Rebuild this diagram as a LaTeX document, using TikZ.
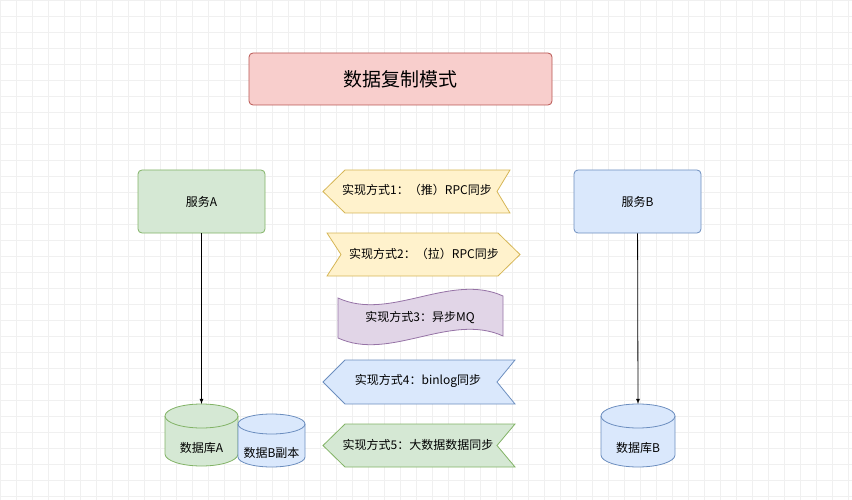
\documentclass[tikz,border=0pt]{standalone}
\usepackage{fontspec}
\setmainfont{Noto Sans CJK SC}
\usetikzlibrary{positioning}
\definecolor{redF}{HTML}{F8CECC}\definecolor{redD}{HTML}{B85450}
\definecolor{grnF}{HTML}{D5E8D4}\definecolor{grnD}{HTML}{82B366}
\definecolor{bluF}{HTML}{DAE8FC}\definecolor{bluD}{HTML}{6C8EBF}
\definecolor{ylwF}{HTML}{FFF2CC}\definecolor{ylwD}{HTML}{D6B656}
\definecolor{purF}{HTML}{E1D5E7}\definecolor{purD}{HTML}{9673A6}
\tikzset{%
  box/.style   = {shape=rectangle, rounded corners=4pt, draw, line width=0.8pt,%
                  minimum width=127pt, minimum height=63pt, font=\fontsize{12}{14}\selectfont},%
  title/.style = {box, fill=redF, draw=redD, minimum width=303pt,%
                  minimum height=52pt, font=\fontsize{19}{22}\selectfont},%
  way/.style   = {line width=0.8pt},%
  lbl/.style   = {font=\fontsize{12}{14}\selectfont, inner sep=0pt},%
  link/.style  = {-latex, line width=0.8pt}%
}
\begin{document}
\begin{tikzpicture}[x=1pt,y=-1pt]
  \useasboundingbox (0,0) rectangle (852,500);
  % grid
  \draw[black!6, step=16pt] (0,0) grid (852,500);
  \node[title] (ttl) at (400.5,79) {数据复制模式};
  \node[box, fill=grnF, draw=grnD] (svcA) at (201.5,201.5) {服务A};
  \node[box, fill=bluF, draw=bluD] (svcB) at (637.5,201.5) {服务B};
  % ways
  \draw[way, fill=ylwF, draw=ylwD] (323,191.5) -- (345,170) -- (510,170) -- (497,191.5) -- (510,213) -- (345,213) -- cycle;
  \node[lbl] (w1) at (417,190) {实现方式1：（推）RPC同步};
  \draw[way, fill=ylwF, draw=ylwD] (327,233) -- (498,233) -- (520,254.5) -- (498,276) -- (327,276) -- (341,254.5) -- cycle;
  \node[lbl] (w2) at (424,254) {实现方式2：（拉）RPC同步};
  \draw[way, fill=purF, draw=purD] (338,298) .. controls (390,322) and (450,272) .. (503,296)
    -- (503,336) .. controls (450,312) and (390,362) .. (338,338) -- cycle;
  \node[lbl] (w3) at (420,318) {实现方式3：异步MQ};
  \draw[way, fill=bluF, draw=bluD] (323,382) -- (345,360) -- (515,360) -- (497,382) -- (515,404) -- (345,404) -- cycle;
  \node[lbl] (w4) at (418,381) {实现方式4：binlog同步};
  \draw[way, fill=grnF, draw=grnD] (323,445.5) -- (345,424) -- (515,424) -- (497,445.5) -- (515,467) -- (345,467) -- cycle;
  \node[lbl] (w5) at (418,445) {实现方式5：大数据数据同步};
  % databases
  \draw[way, fill=grnF, draw=grnD] (165,416) -- (165,454)
    arc[start angle=180, end angle=360, x radius=36.5pt, y radius=12pt] -- (238,416)
    arc[start angle=0, end angle=180, x radius=36.5pt, y radius=12pt];
  \draw[way, draw=grnD] (165,416) arc[start angle=180, end angle=360, x radius=36.5pt, y radius=12pt];
  \coordinate (dbA) at (201.5,404);
  \node[lbl] (dbAl) at (201.5,448) {数据库A};
  \draw[way, fill=bluF, draw=bluD] (238,424) -- (238,457)
    arc[start angle=180, end angle=360, x radius=33.5pt, y radius=10pt] -- (305,424)
    arc[start angle=0, end angle=180, x radius=33.5pt, y radius=10pt];
  \draw[way, draw=bluD] (238,424) arc[start angle=180, end angle=360, x radius=33.5pt, y radius=10pt];
  \node[lbl] (dbBc) at (271.5,453) {数据B副本};
  \draw[way, fill=bluF, draw=bluD] (601,416) -- (601,455)
    arc[start angle=180, end angle=360, x radius=37pt, y radius=12pt] -- (675,416)
    arc[start angle=0, end angle=180, x radius=37pt, y radius=12pt];
  \draw[way, draw=bluD] (601,416) arc[start angle=180, end angle=360, x radius=37pt, y radius=12pt];
  \coordinate (dbB) at (638,404);
  \node[lbl] (dbBl) at (638,448) {数据库B};
  % links
  \draw[link] (svcA) -- (dbA);
  \draw[link] (svcB) -- (dbB);
\end{tikzpicture}
\end{document}
